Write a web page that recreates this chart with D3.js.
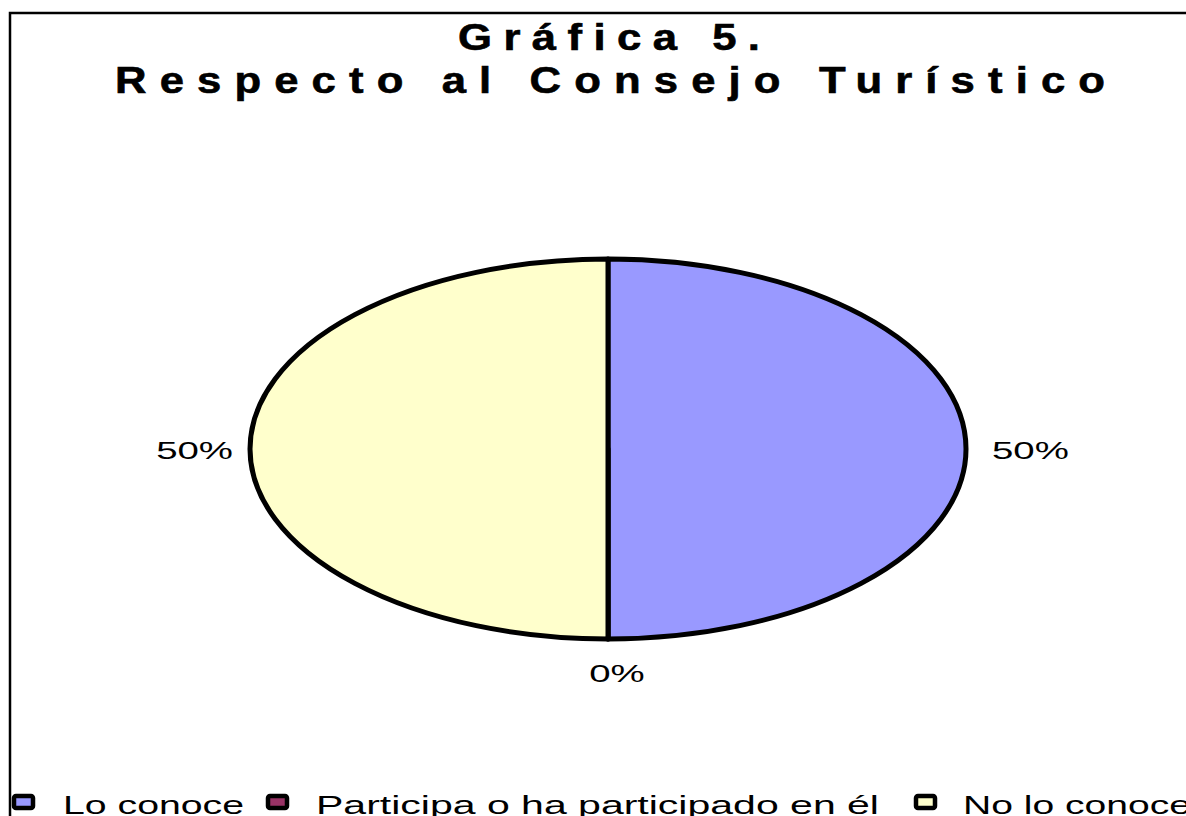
<!DOCTYPE html>
<html>
<head>
<meta charset="utf-8">
<script src="https://cdn.jsdelivr.net/npm/d3@7"></script>
<style>
  html, body { margin: 0; padding: 0; background: #fff; overflow: hidden; }
  svg { display: block; }
  text { font-family: "Liberation Sans", Arial, sans-serif; }
</style>
</head>
<body>
<svg id="chart" width="1186" height="816"></svg>
<script>
const categories = ["Lo conoce", "Participa o ha participado en él", "No lo conoce"];
const values = [50, 0, 50];
const labels = ["50%", "0%", "50%"];
const colors = ["#9999FF", "#993366", "#FFFFCC"];
const titleLines = ["Gráfica 5.", "Respecto al Consejo Turístico"];

const svg = d3.select("#chart");

// outer chart frame (right/bottom run off the picture)
svg.append("rect")
  .attr("x", 10).attr("y", 13)
  .attr("width", 1200).attr("height", 820)
  .attr("fill", "#fff").attr("stroke", "#000").attr("stroke-width", 2.5);

// title
const titleSpec = [
  {y: 50, x0: 458, x1: 760},
  {y: 93, x0: 115, x1: 1105}
];
const tScale = 1.18;
svg.selectAll("text.title").data(titleLines).join("text")
  .attr("class", "title")
  .attr("transform", (d, i) => `translate(${titleSpec[i].x0},${titleSpec[i].y}) scale(${tScale},1)`)
  .attr("x", 0).attr("y", 0)
  .attr("textLength", (d, i) => (titleSpec[i].x1 - titleSpec[i].x0) / tScale)
  .attr("lengthAdjust", "spacing")
  .attr("font-size", 37)
  .attr("font-weight", "bold")
  .attr("stroke", "#000")
  .attr("stroke-width", 0.6)
  .attr("fill", "#000")
  .text(d => d);

// pie (ellipse)
const cx = 608, cy = 449, rx = 358, ry = 190;
const pie = d3.pie().sort(null).value(d => d)(values);
const arc = d3.arc().innerRadius(0).outerRadius(rx);

const g = svg.append("g")
  .attr("transform", `translate(${cx},${cy}) scale(1,${ry / rx})`);

g.selectAll("path").data(pie).join("path")
  .attr("d", arc)
  .attr("fill", (d, i) => colors[i])
  .attr("stroke", "#000")
  .attr("stroke-width", 5)
  .attr("stroke-linejoin", "round")
  .attr("vector-effect", "non-scaling-stroke");

// data labels (wide, horizontally stretched glyphs as in the reference)
const labelStretch = 1.6;
const lbl = svg.append("g");
pie.forEach((d, i) => {
  const a = (d.startAngle + d.endAngle) / 2;
  const px = cx + Math.sin(a) * rx;
  const py = cy - Math.cos(a) * ry;
  let x, y, anchor;
  const s = Math.sin(a);
  if (s > 0.5) { x = px + 26; y = py + 10; anchor = "start"; }
  else if (s < -0.5) { x = px - 17; y = py + 10; anchor = "end"; }
  else { x = px + 9; y = py + 43; anchor = "middle"; }
  const t = lbl.append("text")
    .attr("x", x).attr("y", y)
    .attr("text-anchor", anchor)
    .attr("font-size", 24)
    .attr("fill", "#000")
    .text(labels[i]);
  const w = t.node().getComputedTextLength();
  t.attr("textLength", w * labelStretch).attr("lengthAdjust", "spacingAndGlyphs");
});

// legend
const legSpec = [
  {sx: 14, tx: 63, tw: 181},
  {sx: 268, tx: 316, tw: 563},
  {sx: 916, tx: 963, tw: 228}
];
const leg = svg.append("g");
categories.forEach((c, i) => {
  const sp = legSpec[i];
  leg.append("rect")
    .attr("x", sp.sx).attr("y", 796)
    .attr("width", 19).attr("height", 12)
    .attr("rx", 2)
    .attr("fill", colors[i])
    .attr("stroke", "#000").attr("stroke-width", 4.5);
  leg.append("text")
    .attr("x", sp.tx).attr("y", 814)
    .attr("textLength", sp.tw)
    .attr("lengthAdjust", "spacingAndGlyphs")
    .attr("font-size", 26)
    .attr("fill", "#000")
    .text(c);
});
</script>
</body>
</html>
